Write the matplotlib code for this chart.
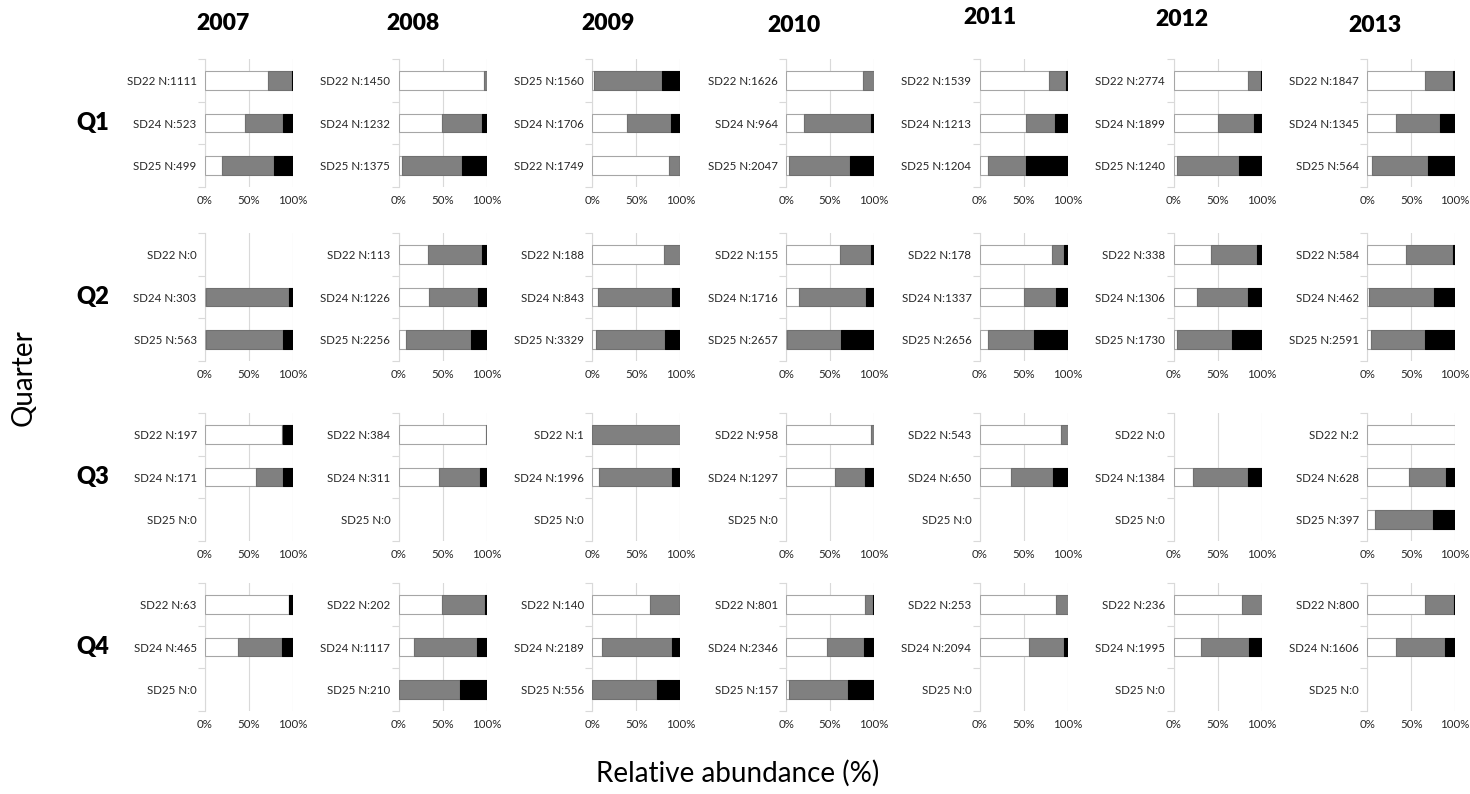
import numpy as np
import matplotlib.pyplot as plt

# jahre / quartale
years = ['2007', '2008', '2009', '2010', '2011', '2012', '2013']
quarters = ['Q1', 'Q2', 'Q3', 'Q4']
sites = ['SD22', 'SD24', 'SD25']
sites_q1_2009 = ['SD25', 'SD24', 'SD22']

# N pro panel [quartal][jahr][balken]
n_counts = [
    [[1111, 523, 499], [1450, 1232, 1375], [1560, 1706, 1749], [1626, 964, 2047],
     [1539, 1213, 1204], [2774, 1899, 1240], [1847, 1345, 564]],
    [[0, 303, 563], [113, 1226, 2256], [188, 843, 3329], [155, 1716, 2657],
     [178, 1337, 2656], [338, 1306, 1730], [584, 462, 2591]],
    [[197, 171, 0], [384, 311, 0], [1, 1996, 0], [958, 1297, 0],
     [543, 650, 0], [0, 1384, 0], [2, 628, 397]],
    [[63, 465, 0], [202, 1117, 210], [140, 2189, 556], [801, 2346, 157],
     [253, 2094, 0], [236, 1995, 0], [800, 1606, 0]],
]

# Anteile in % (weiss / grau / schwarz)
pct_white = [
    [[72, 45, 19], [97, 49, 4], [2, 39, 87], [87, 20, 3], [79, 53, 9], [85, 50, 4], [66, 33, 5]],
    [[0, 1, 1], [33, 34, 8], [81, 6, 4], [61, 15, 1], [82, 50, 9], [43, 27, 4], [44, 2, 4]],
    [[87, 58, 0], [99, 46, 0], [0, 8, 0], [97, 56, 0], [92, 35, 0], [0, 22, 0], [100, 47, 9]],
    [[95, 38, 0], [49, 17, 0], [66, 11, 0], [90, 47, 3], [87, 56, 0], [78, 31, 0], [66, 33, 0]],
]
pct_grey = [
    [[27, 44, 59], [3, 46, 68], [77, 50, 12], [13, 76, 70], [19, 33, 44], [14, 41, 70], [31, 50, 64]],
    [[0, 94, 88], [62, 56, 74], [19, 85, 78], [35, 76, 61], [14, 37, 53], [52, 58, 63], [53, 74, 62]],
    [[2, 31, 0], [1, 46, 0], [100, 83, 0], [3, 34, 0], [8, 48, 0], [0, 63, 0], [0, 42, 66]],
    [[1, 50, 0], [49, 72, 70], [33, 80, 73], [9, 41, 67], [13, 40, 0], [22, 55, 0], [33, 55, 0]],
]
pct_black = [
    [[1, 11, 22], [0, 5, 28], [21, 11, 1], [0, 4, 27], [2, 14, 47], [1, 9, 26], [3, 17, 31]],
    [[0, 5, 11], [5, 10, 18], [0, 9, 18], [4, 9, 38], [4, 13, 38], [5, 15, 33], [3, 24, 34]],
    [[11, 11, 0], [0, 8, 0], [0, 9, 0], [0, 10, 0], [0, 17, 0], [0, 15, 0], [0, 11, 25]],
    [[4, 12, 0], [2, 11, 30], [1, 9, 27], [1, 12, 30], [0, 4, 0], [0, 14, 0], [1, 12, 0]],
]

small_font = ['Lato', 'DejaVu Sans']
big_font = ['Lato', 'DejaVu Sans']

W, H = 1470, 794
fig = plt.figure(figsize=(14.7, 7.94), dpi=100)

row_centers = [123, 297, 477, 647]
ax_h = 127.5
ax_w = 88

for qi in range(4):
    for yi in range(7):
        left_px = 205 + 193.7 * yi
        top_px = row_centers[qi] - ax_h / 2
        ax = fig.add_axes([left_px / W, 1 - (top_px + ax_h) / H, ax_w / W, ax_h / H])

        w = np.array(pct_white[qi][yi], dtype=float)
        g = np.array(pct_grey[qi][yi], dtype=float)
        b = np.array(pct_black[qi][yi], dtype=float)
        pos = np.arange(3)
        segs = [(w, 0, 'white', '#a6a6a6'),
                (g, w, '#808080', '#707070'),
                (b, w + g, 'black', 'black')]
        for vals, lft, col, ec in segs:
            ax.barh(pos, vals, left=lft, height=0.44, color=col, edgecolor=ec,
                    linewidth=np.where(vals > 0, 0.8, 0), zorder=3)

        s = sites_q1_2009 if (qi == 0 and yi == 2) else sites
        labels = [f'{s[k]} N:{n_counts[qi][yi][k]}' for k in range(3)]

        ax.set_xlim(0, 100)
        ax.set_ylim(2.5, -0.5)
        ax.set_xticks([0, 50, 100])
        ax.set_xticklabels(['0%', '50%', '100%'], family=small_font, fontsize=8.3, color='#262626')
        ax.set_yticks(pos)
        ax.set_yticklabels(labels, family=small_font, fontsize=8.3, color='#262626')
        ax.set_yticks([-0.5, 0.5, 1.5, 2.5], minor=True)
        ax.tick_params(axis='y', which='major', length=0, pad=6)
        ax.tick_params(axis='y', which='minor', length=5, color='#d9d9d9', width=0.8)
        ax.tick_params(axis='x', length=0, pad=6)
        ax.grid(axis='x', color='#d9d9d9', linewidth=0.8)
        ax.set_axisbelow(True)
        for sp in ['top', 'right', 'bottom']:
            ax.spines[sp].set_visible(False)
        ax.spines['left'].set_color('#d9d9d9')
        ax.spines['left'].set_linewidth(0.8)

# Jahres-Ueberschriften
title_x = [223, 413, 608, 794, 990, 1182, 1375]
title_y = [24, 24, 24, 25, 18, 20, 25]
for yr, tx, ty in zip(years, title_x, title_y):
    fig.text(tx / W, 1 - ty / H, yr, ha='center', va='center', fontsize=16.5,
             fontweight='heavy', family=big_font)

for q, cy in zip(quarters, row_centers):
    fig.text(93 / W, 1 - cy / H, q, ha='center', va='center', fontsize=17,
             fontweight='heavy', family=big_font)

fig.text(24 / W, 1 - 378 / H, 'Quarter', rotation=90, ha='center', va='center',
         fontsize=20, family=big_font)
fig.text(738 / W, 1 - 773 / H, 'Relative abundance (%)', ha='center', va='center',
         fontsize=20, family=big_font)

fig.savefig('out.png', dpi=100)
